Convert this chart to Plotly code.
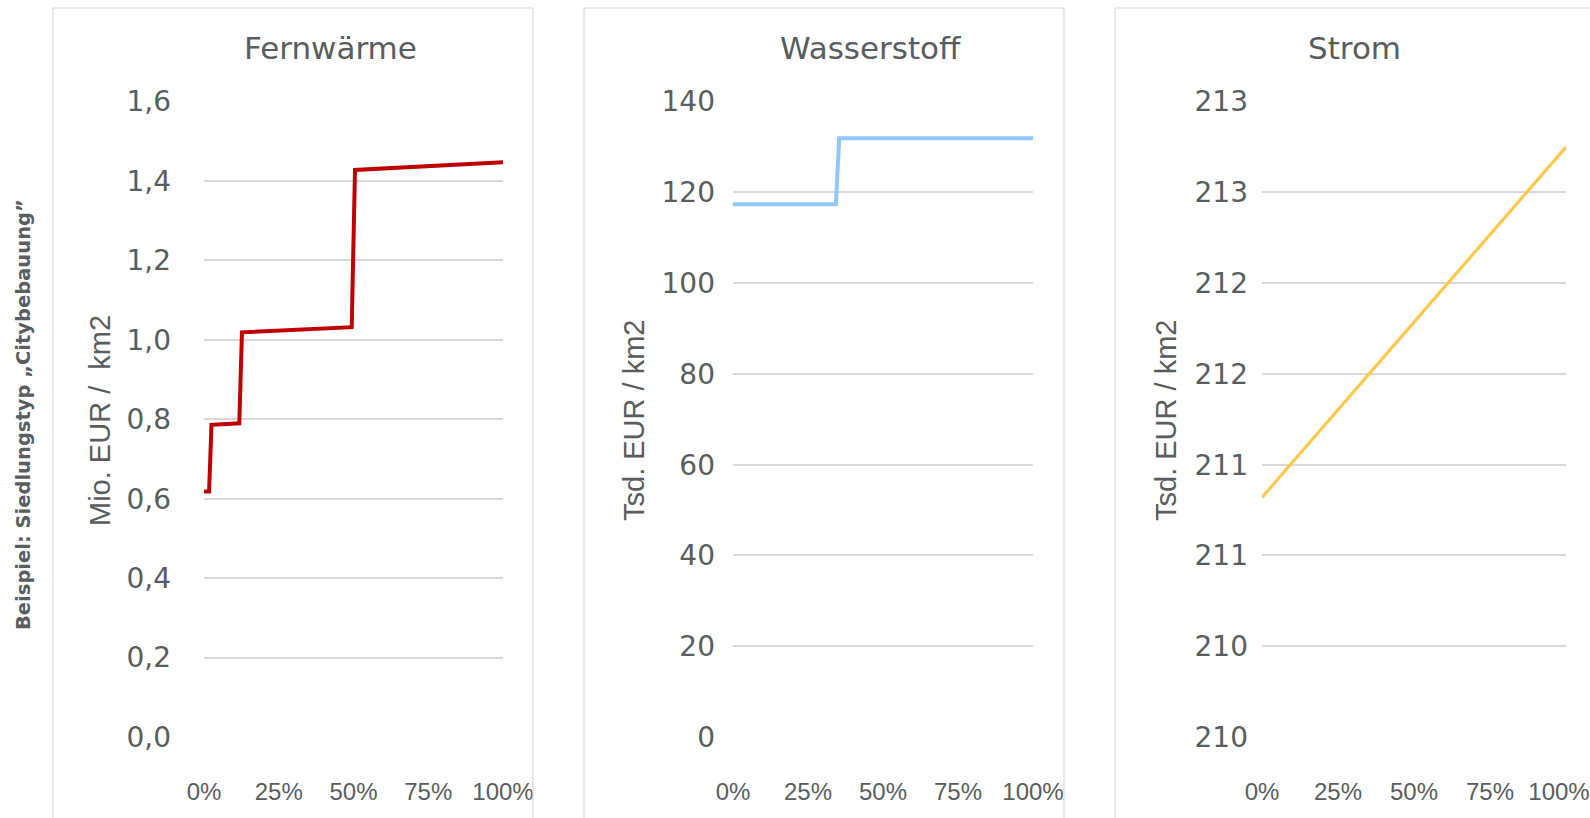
import plotly.graph_objects as go

W, H = 1590, 818

# Anteil (x) and Kosten (y) per Energieträger
fw_share = [0.0, 0.017, 0.025, 0.118, 0.127, 0.494, 0.505, 1.0]
fw_cost = [0.618, 0.618, 0.786, 0.790, 1.019, 1.032, 1.428, 1.447]

h2_share = [0.0, 0.343, 0.354, 1.0]
h2_cost = [117.4, 117.4, 131.9, 131.9]

el_share = [0.0, 1.0]
el_cost = [211.32, 213.25]

x_tickvals = [0, 0.25, 0.5, 0.75, 1.0]
x_ticktext = ["0%", "25%", "50%", "75%", "100%"]

fw_tickvals = [0.0, 0.2, 0.4, 0.6, 0.8, 1.0, 1.2, 1.4, 1.6]
fw_ticktext = ["0,0", "0,2", "0,4", "0,6", "0,8", "1,0", "1,2", "1,4", "1,6"]

h2_tickvals = [0, 20, 40, 60, 80, 100, 120, 140]
h2_ticktext = ["0", "20", "40", "60", "80", "100", "120", "140"]

el_tickvals = [210.0, 210.5, 211.0, 211.5, 212.0, 212.5, 213.0, 213.5]
el_ticktext = ["210", "210", "211", "211", "212", "212", "213", "213"]

titles = ["Fernwärme", "Wasserstoff", "Strom"]
y_titles = ["Mio. EUR /\u00a0\u00a0km2", "Tsd. EUR / km2", "Tsd. EUR / km2"]
side_label = "Beispiel: Siedlungstyp „Citybebauung”"

TEXT = "#595D5E"
GRID = "#D9D9D9"


def px(x):
    return x / W


def py(y):
    return 1 - y / H


# plot areas (pixel columns) and shared vertical extent
plot_cols = [(204, 503), (733, 1033), (1262, 1566)]
plot_top, plot_bottom = 101.6, 737
title_x = [330, 870, 1354]
ytitle_x = [100, 634, 1166]
ylabel_standoff = [32, 17, 13]

fig = go.Figure()

series = [
    (fw_share, fw_cost, "#C00000", 4),
    (h2_share, h2_cost, "#90C8FA", 4),
    (el_share, el_cost, "#FFC84A", 3.2),
]
for i, (xs, ys, color, width) in enumerate(series):
    suffix = "" if i == 0 else str(i + 1)
    fig.add_trace(go.Scatter(
        x=xs, y=ys, mode="lines",
        line=dict(color=color, width=width),
        xaxis="x" + suffix, yaxis="y" + suffix,
        showlegend=False, hoverinfo="skip",
    ))

y_specs = [
    ([0, 1.6], fw_tickvals, fw_ticktext),
    ([0, 140], h2_tickvals, h2_ticktext),
    ([210, 213.5], el_tickvals, el_ticktext),
]

layout = dict(
    width=W, height=H,
    margin=dict(l=0, r=0, t=0, b=0, pad=0, autoexpand=False),
    paper_bgcolor="white", plot_bgcolor="white",
    showlegend=False,
)

for i in range(3):
    suffix = "" if i == 0 else str(i + 1)
    x0, x1 = plot_cols[i]
    yr, yv, yt = y_specs[i]
    xv = list(x_tickvals)
    if i == 2:
        # keep the last label of the right-hand panel inside the page
        xv[-1] = 0.977
    layout["xaxis" + suffix] = dict(
        domain=[px(x0), px(x1)],
        range=[0, 1],
        anchor="y" + suffix,
        tickvals=xv, ticktext=x_ticktext,
        showgrid=False, zeroline=False, showline=False,
        ticks="", ticklabelstandoff=38, automargin=False,
        ticklabeloverflow="allow",
        tickfont=dict(family="Liberation Sans", size=24, color=TEXT),
        fixedrange=True,
    )
    layout["yaxis" + suffix] = dict(
        domain=[py(plot_bottom), py(plot_top)],
        range=yr,
        anchor="x" + suffix,
        tickvals=yv, ticktext=yt,
        showgrid=True, gridcolor=GRID, gridwidth=1.5,
        zeroline=False, showline=False,
        ticks="", ticklabelstandoff=ylabel_standoff[i], automargin=False,
        tickfont=dict(family="DejaVu Sans", size=28, color=TEXT),
        fixedrange=True,
    )

fig.update_layout(**layout)

# panel frames: open at the bottom, third panel runs past the right edge
frame_paths = [
    f"M {px(53)},0 L {px(53)},{py(8)} L {px(533)},{py(8)} L {px(533)},0",
    f"M {px(584)},0 L {px(584)},{py(8)} L {px(1064)},{py(8)} L {px(1064)},0",
    f"M {px(1115)},0 L {px(1115)},{py(8)} L 1,{py(8)}",
]
fig.update_layout(shapes=[
    dict(type="path", xref="paper", yref="paper", path=p,
         line=dict(color=GRID, width=1.2))
    for p in frame_paths
])

annotations = []
for i in range(3):
    annotations.append(dict(
        x=px(title_x[i]), y=py(48), xref="paper", yref="paper",
        text=titles[i], showarrow=False, xanchor="center", yanchor="middle",
        font=dict(family="DejaVu Sans", size=31, color=TEXT),
    ))
    annotations.append(dict(
        x=px(ytitle_x[i]), y=py(421), xref="paper", yref="paper",
        text=y_titles[i], showarrow=False, textangle=-90,
        xanchor="center", yanchor="middle",
        font=dict(family="Liberation Sans", size=29, color=TEXT),
    ))
annotations.append(dict(
    x=px(23), y=py(415), xref="paper", yref="paper",
    text=side_label, showarrow=False, textangle=-90,
    xanchor="center", yanchor="middle",
    font=dict(family="DejaVu Sans", size=19.5, color=TEXT, weight="bold"),
))
fig.update_layout(annotations=annotations)

fig.write_html("out.html")
